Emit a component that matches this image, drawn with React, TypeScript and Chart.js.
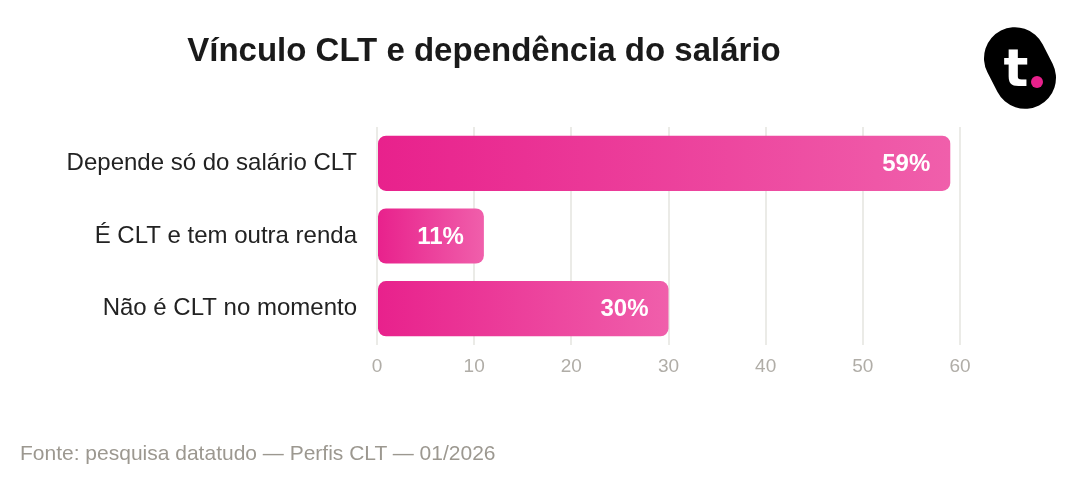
import React, { useEffect, useRef } from "react";
import { Chart, registerables } from "chart.js";

Chart.register(...registerables);

const categories = ["Depende só do salário CLT", "É CLT e tem outra renda", "Não é CLT no momento"];
const values = [59, 11, 30];
const valueLabels = ["59%", "11%", "30%"];
const xTicks = [0, 10, 20, 30, 40, 50, 60];
const title = "Vínculo CLT e dependência do salário";
const source = "Fonte: pesquisa datatudo — Perfis CLT — 01/2026";

const FONT = "'Liberation Sans', Arial, Helvetica, sans-serif";

const valueLabelPlugin = {
  id: "valueLabels",
  afterDatasetsDraw(chart: any) {
    const ctx = chart.ctx;
    const meta = chart.getDatasetMeta(0);
    ctx.save();
    ctx.font = `bold 24px ${FONT}`;
    ctx.fillStyle = "#ffffff";
    ctx.textAlign = "right";
    ctx.textBaseline = "middle";
    meta.data.forEach((bar: any, i: number) => {
      ctx.fillText(valueLabels[i], bar.x - 20, bar.y + 1);
    });
    ctx.restore();
  },
};

export default function App() {
  const ref = useRef<HTMLCanvasElement | null>(null);
  useEffect(() => {
    if (!ref.current) return;
    const chart = new Chart(ref.current, {
      type: "bar",
      data: {
        labels: categories,
        datasets: [
          {
            data: values,
            backgroundColor: (c: any) => {
              const ch = c.chart;
              const area = ch.chartArea;
              if (!area || !ch.scales.x) return "#ec3d97";
              const x0 = ch.scales.x.getPixelForValue(0);
              const x1 = ch.scales.x.getPixelForValue(values[c.dataIndex] ?? 0);
              const g = ch.ctx.createLinearGradient(x0, 0, x1, 0);
              g.addColorStop(0, "#e8218c");
              g.addColorStop(1, "#f05fab");
              return g;
            },
            borderRadius: 8,
            borderSkipped: false,
            categoryPercentage: 0.76,
            barPercentage: 1,
          },
        ],
      },
      options: {
        indexAxis: "y",
        animation: false,
        responsive: false,
        maintainAspectRatio: false,
        layout: { padding: { left: 0, right: 120, top: 127, bottom: 107 } },
        plugins: { legend: { display: false }, tooltip: { enabled: false }, title: { display: false } },
        scales: {
          x: {
            min: 0,
            max: 60,
            afterFit: (s: any) => {
              s.height = 40;
            },
            afterBuildTicks: (s: any) => {
              s.ticks = xTicks.map((v) => ({ value: v }));
            },
            grid: { color: "#ebebe7", lineWidth: 2, drawTicks: false },
            border: { display: false },
            ticks: {
              color: "#b0ada7",
              font: { family: FONT, size: 19 },
              padding: 10,
            },
          },
          y: {
            afterFit: (s: any) => {
              s.width = 377;
            },
            grid: { display: false, drawTicks: false },
            border: { display: false },
            ticks: {
              color: "#222222",
              font: { family: FONT, size: 24 },
              padding: 20,
            },
          },
        },
      },
      plugins: [valueLabelPlugin],
    } as any);
    return () => chart.destroy();
  }, []);

  return (
    <div style={{ position: "fixed", left: 0, top: 0, width: 1080, height: 492, background: "#fff", overflow: "hidden" }}>
      <canvas ref={ref} width={1080} height={492} style={{ position: "absolute", left: 0, top: 0, width: 1080, height: 492 }} />
      <div
        style={{
          position: "absolute",
          left: 0,
          width: 968,
          top: 29,
          textAlign: "center",
          fontFamily: FONT,
          fontWeight: "bold",
          fontSize: 33,
          lineHeight: "42px",
          color: "#1a1a1a",
        }}
      >
        {title}
      </div>
      <div
        style={{
          position: "absolute",
          left: 20,
          top: 440,
          fontFamily: FONT,
          fontSize: 21,
          lineHeight: "26px",
          color: "#9c9890",
        }}
      >
        {source}
      </div>
      <svg width="90" height="100" viewBox="0 0 90 100" style={{ position: "absolute", left: 975, top: 18 }}>
        <g transform="translate(45 50) rotate(-27)">
          <rect x="-31" y="-42" width="62" height="84" rx="31" ry="31" fill="#000" />
        </g>
        <text x="41" y="68" textAnchor="middle" fontFamily="'DejaVu Sans', sans-serif" fontWeight="bold" fontSize="52" fill="#fff">t</text>
        <circle cx="62" cy="64" r="6" fill="#e8218c" />
      </svg>
    </div>
  );
}
